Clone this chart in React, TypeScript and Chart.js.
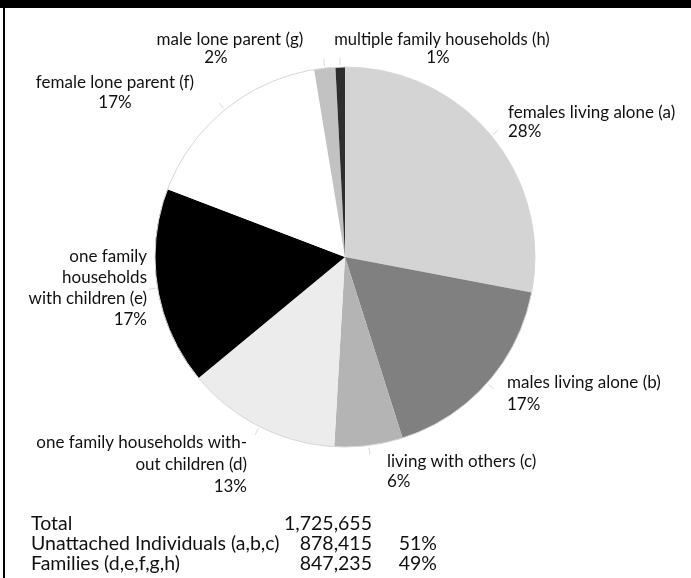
import React, { useEffect, useRef } from "react";
import { Chart, registerables } from "chart.js";

Chart.register(...registerables);

// ---- data ----
const categories = [
  "females living alone (a)",
  "males living alone (b)",
  "living with others (c)",
  "one family households without children (d)",
  "one family households with children (e)",
  "female lone parent (f)",
  "male lone parent (g)",
  "multiple family households (h)",
];
const shares = [28.0, 17.1, 5.8, 13.1, 16.8, 16.6, 1.8, 0.8];
const percentLabels = ["28%", "17%", "6%", "13%", "17%", "17%", "2%", "1%"];
const labelLines = [
  ["females living alone (a)"],
  ["males living alone (b)"],
  ["living with others (c)"],
  ["one family households with-", "out children (d)"],
  ["one family", "households", "with children (e)"],
  ["female lone parent (f)"],
  ["male lone parent (g)"],
  ["multiple family households (h)"],
];
const summaryNames = ["Total", "Unattached Individuals (a,b,c)", "Families (d,e,f,g,h)"];
const summaryCounts = ["1,725,655", "878,415", "847,235"];
const summaryShares = ["", "51%", "49%"];

// ---- styles / layout ----
const sliceColors = ["#d4d4d4", "#808080", "#b4b4b4", "#ececec", "#000000", "#ffffff", "#c2c2c2", "#2e2e2e"];
const FONT = "Lato, 'Open Sans', sans-serif";
type LabelPos = { x: number; y: number; align: CanvasTextAlign; lh: number; pctX?: number; size?: number };
const labelLayout: LabelPos[] = [
  { x: 508, y: 113, align: "left", lh: 19 },
  { x: 507, y: 383, align: "left", lh: 22 },
  { x: 387, y: 462, align: "left", lh: 20 },
  { x: 247, y: 443, align: "right", lh: 22 },
  { x: 147, y: 257, align: "right", lh: 21 },
  { x: 115, y: 83, align: "center", lh: 20 },
  { x: 230, y: 40, align: "center", lh: 18, pctX: 216 },
  { x: 442, y: 40, align: "center", lh: 18, pctX: 438, size: 16.5 },
];

const labelPlugin = {
  id: "pieLabels",
  afterDatasetsDraw(chart: any) {
    const ctx = chart.ctx as CanvasRenderingContext2D;
    const meta = chart.getDatasetMeta(0);
    const arcs = meta.data as any[];
    if (!arcs.length) return;
    const { x: cx, y: cy, outerRadius: r } = arcs[0].getProps(["x", "y", "outerRadius"], true);
    ctx.save();
    ctx.strokeStyle = "#d6d6d6";
    ctx.lineWidth = 1;
    ctx.beginPath();
    ctx.arc(cx, cy, r, 0, Math.PI * 2);
    ctx.stroke();
    arcs.forEach((arc) => {
      const { startAngle, endAngle } = arc.getProps(["startAngle", "endAngle"], true);
      const mid = (startAngle + endAngle) / 2;
      ctx.strokeStyle = "#d8d8d8";
      ctx.beginPath();
      ctx.moveTo(cx + Math.cos(mid) * (r + 2), cy + Math.sin(mid) * (r + 2));
      ctx.lineTo(cx + Math.cos(mid) * (r + 9), cy + Math.sin(mid) * (r + 9));
      ctx.stroke();
    });
    ctx.fillStyle = "#111";
    ctx.textBaseline = "middle";
    labelLayout.forEach((p, i) => {
      const lines = [...labelLines[i]];
      ctx.font = `${p.size ?? 17}px ${FONT}`;
      ctx.textAlign = p.align;
      lines.forEach((t, k) => ctx.fillText(t, p.x, p.y + k * p.lh));
      ctx.font = `17px ${FONT}`;
      ctx.fillText(percentLabels[i], p.pctX ?? p.x, p.y + lines.length * p.lh);
    });
    ctx.restore();
  },
};

export default function App() {
  const ref = useRef<HTMLCanvasElement | null>(null);
  useEffect(() => {
    if (!ref.current) return;
    const chart = new Chart(ref.current, {
      type: "pie",
      data: {
        labels: categories,
        datasets: [
          {
            data: shares,
            backgroundColor: sliceColors,
            borderWidth: 0,
          },
        ],
      },
      options: {
        responsive: false,
        animation: false,
        layout: { padding: { left: 155, right: 156, top: 67, bottom: 131 } },
        plugins: { legend: { display: false }, tooltip: { enabled: false } },
      },
      plugins: [labelPlugin],
    });
    return () => chart.destroy();
  }, []);

  const cell = { position: "absolute" as const, fontFamily: FONT, fontSize: 19.5, color: "#111", lineHeight: "20px", whiteSpace: "nowrap" as const };
  return (
    <div style={{ position: "absolute", left: 0, top: 0, width: 691, height: 578, background: "#fff", overflow: "hidden" }}>
      <canvas ref={ref} width={691} height={578} style={{ position: "absolute", left: 0, top: 0 }} />
      <div style={{ position: "absolute", left: 0, top: 0, width: 691, height: 8, background: "#000" }} />
      <div style={{ position: "absolute", left: 3, top: 8, width: 2, height: 570, background: "#000" }} />
      {summaryNames.map((n, i) => (
        <React.Fragment key={n}>
          <div style={{ ...cell, left: 31, top: 513 + i * 20 }}>{n}</div>
          <div style={{ ...cell, left: 250, width: 122, textAlign: "right", top: 513 + i * 20 }}>{summaryCounts[i]}</div>
          <div style={{ ...cell, left: 380, width: 57, textAlign: "right", top: 513 + i * 20 }}>{summaryShares[i]}</div>
        </React.Fragment>
      ))}
    </div>
  );
}
